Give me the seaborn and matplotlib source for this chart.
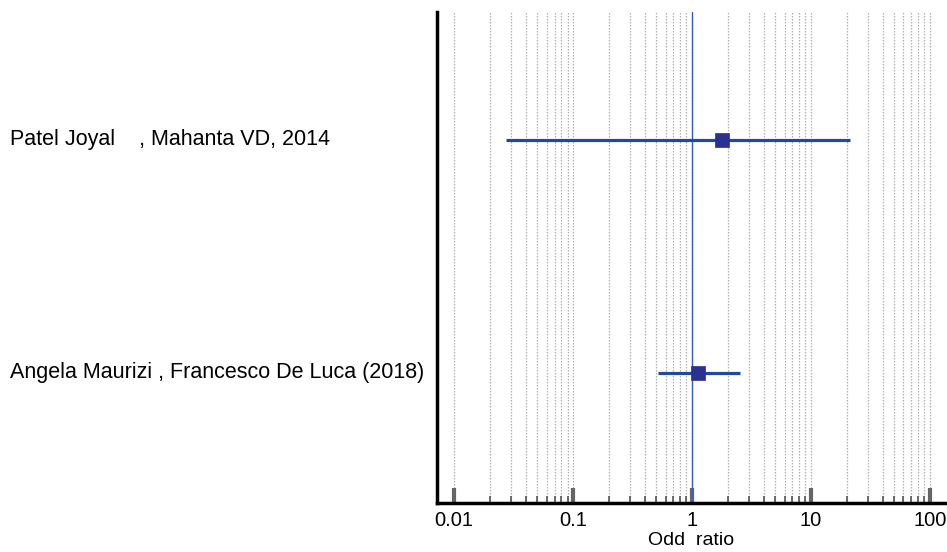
import matplotlib
matplotlib.use("Agg")
import matplotlib.pyplot as plt
import matplotlib.transforms as mtransforms
from matplotlib.ticker import NullFormatter, FixedLocator
import seaborn as sns
import pandas as pd

studies = ["Patel Joyal    , Mahanta VD, 2014",
           "Angela Maurizi , Francesco De Luca (2018)"]
odds = [1.79, 1.12]
lower = [0.0274, 0.518]
upper = [21.3, 2.53]
xticks = [0.01, 0.1, 1, 10, 100]
xticklabels = ["0.01", "0.1", "1", "10", "100"]

df = pd.DataFrame({"study": studies, "or": odds, "lo": lower, "hi": upper,
                   "row": [1, 2]})

sns.set_style("white")
plt.rcParams['font.family'] = ['Liberation Sans', 'DejaVu Sans']

fig = plt.figure(figsize=(9.47, 5.52), dpi=100)
ax = fig.add_axes([437/947, 1 - 503/552, (945-437)/947, (503-12)/552])

ax.set_xscale("log")
ax.set_xlim(0.0072, 134)
ax.set_ylim(2.558, 0.453)

gridpos = [m * 10.0**e for e in range(-2, 2) for m in range(1, 10)] + [100]
for g in gridpos:
    ax.axvline(g, color="#b0b0b0", lw=0.9, ls=(0, (1.2, 1.2)), zorder=0)

ax.axvline(1, color="#3a5bc7", lw=1.0, zorder=1)

for _, r in df.iterrows():
    ax.plot([r["lo"], r["hi"]], [r["row"], r["row"]], color="#1f4a9e", lw=2.3, zorder=2,
            solid_capstyle="butt")

sns.scatterplot(data=df, x="or", y="row", marker="s", s=90, color="#2a3192",
                edgecolor="#2a3192", linewidth=0.5, ax=ax, zorder=3, legend=False)

ax.set_yticks([])
ax.set_ylabel("")
trans = mtransforms.blended_transform_factory(fig.transFigure, ax.transData)
for _, r in df.iterrows():
    ax.text(10/947, r["row"], r["study"], transform=trans, ha="left", va="center",
            fontsize=15.5, color="black")

ax.xaxis.set_major_locator(FixedLocator(xticks))
ax.set_xticklabels(xticklabels)
ax.xaxis.set_minor_locator(FixedLocator([m * 10.0**e for e in range(-2, 2) for m in range(2, 10)]))
ax.xaxis.set_minor_formatter(NullFormatter())
ax.tick_params(axis="x", which="both", bottom=True)
ax.tick_params(axis="x", which="major", direction="in", length=11, width=3, color="#666666",
               pad=6, labelsize=14.5, labelcolor="black")
ax.tick_params(axis="x", which="minor", direction="in", length=5, width=1.2, color="#555555")
ax.set_xlabel("Odd  ratio", fontsize=14, labelpad=1, color="black")

for s in ["top", "right"]:
    ax.spines[s].set_visible(False)
for s in ["left", "bottom"]:
    ax.spines[s].set_linewidth(2.5)
    ax.spines[s].set_color("black")

fig.savefig("out.png", dpi=100)
